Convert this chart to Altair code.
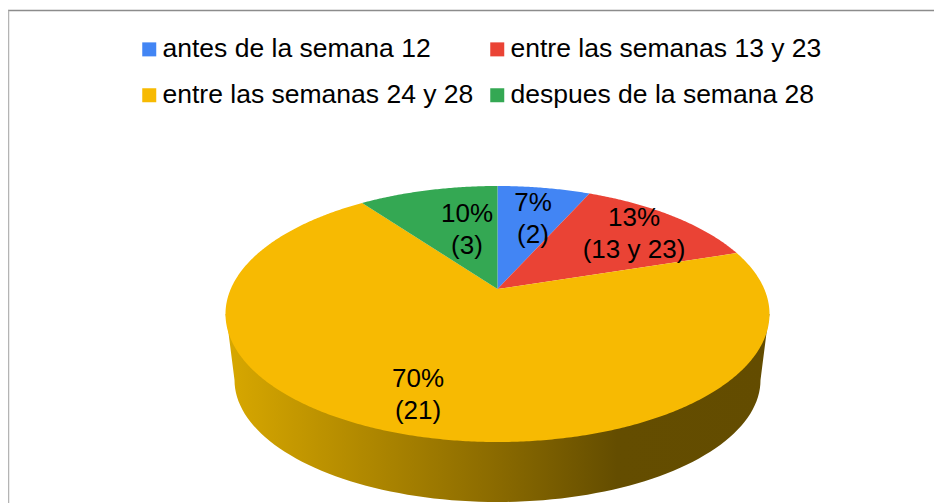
import math
import altair as alt

categories = ["antes de la semana 12", "entre las semanas 13 y 23",
              "entre las semanas 24 y 28", "despues de la semana 28"]
counts = [2, 4, 21, 3]
slice_labels = ["7%\n(2)", "13%\n(13 y 23)", "70%\n(21)", "10%\n(3)"]
label_x = [533, 634, 418, 467]
label_y = [203, 218, 379, 214]
colors = ["#4285F4", "#EA4335", "#F7BA02", "#34A853"]
legend_order = [categories[0], categories[2], categories[1], categories[3]]
legend_colors = [colors[0], colors[2], colors[1], colors[3]]

# Geometry of the tilted pie, in page pixels
CX, CY, RX, RY = 497.5, 314.0, 272.0, 128.0
APEX_Y = 289.0
BOTTOM_CY, BOTTOM_RX, BOTTOM_RY = 380.0, 263.0, 122.0
k = (CY - APEX_Y) / RY
s = math.sqrt(1 - k * k)


def rim(deg):
    """Perspective image of the point at `deg` clockwise from 12 o'clock."""
    a = math.radians(deg)
    u, v = math.sin(a), math.cos(a)
    d = 1 + k * v
    return [CX + RX * s * u / d, CY - RY * (v + k) / d]


def feature(coords, label):
    return {"type": "Feature", "properties": {"label": label},
            "geometry": {"type": "Polygon", "coordinates": [coords]}}


total = sum(counts)
wedges = []
start = 0.0
for name, c in zip(categories, counts):
    end = start + 360.0 * c / total
    n = max(2, int(end - start) * 2)
    arc = [rim(start + (end - start) * i / n) for i in range(n + 1)]
    apex = [CX, APEX_Y]
    wedges.append(feature([apex] + arc + [apex], name))
    start = end

# Side wall: hull of the top rim and the lower rim
wall = [[CX - RX, CY], [CX - RX + 3, CY + 19]]
for i in range(0, 181, 2):
    a = math.radians(180 - i)
    wall.append([CX + BOTTOM_RX * math.cos(a), BOTTOM_CY + BOTTOM_RY * math.sin(a)])
wall += [[CX + RX - 3, CY + 19], [CX + RX, CY], [CX - RX, CY]]

proj = dict(type="identity", scale=1, translate=[-8, -8])


def geo(features):
    return alt.InlineData(values={"type": "FeatureCollection", "features": features},
                          format=alt.DataFormat(property="features", type="json"))


gradient = alt.Gradient(
    gradient="linear", x1=0, x2=1, y1=0, y2=0,
    stops=[alt.GradientStop(color="#D8A800", offset=0),
           alt.GradientStop(color="#8A6A00", offset=0.5),
           alt.GradientStop(color="#644D00", offset=0.72),
           alt.GradientStop(color="#634C00", offset=1)])

wall_layer = alt.Chart(geo([feature(wall, "pared")])).mark_geoshape(
    fill=gradient, strokeWidth=0).project(**proj)

wedge_layer = alt.Chart(geo(wedges)).mark_geoshape(strokeWidth=0).encode(
    color=alt.Color("properties.label:N",
                    scale=alt.Scale(domain=legend_order, range=legend_colors),
                    sort=legend_order,
                    legend=alt.Legend(
                        title=None, orient="none", legendX=128, legendY=28,
                        columns=2, symbolType="square", symbolSize=196,
                        symbolStrokeWidth=0, labelFontSize=26.5,
                        labelFont="Liberation Sans", labelColor="#000000",
                        labelOffset=0, rowPadding=19, columnPadding=10,
                        labelLimit=400))
).project(**proj)

text_layer = alt.Chart(alt.Data(values=[
    {"t": t, "lon": x, "lat": y} for t, x, y in zip(slice_labels, label_x, label_y)
])).mark_text(font="Liberation Sans", fontSize=26, color="#000000",
              lineBreak="\n", lineHeight=32, align="center", baseline="middle").encode(
    longitude="lon:Q", latitude="lat:Q", text="t:N").project(**proj)


def line(coords, color, width):
    return alt.Chart(alt.InlineData(values={"type": "Feature", "properties": {},
                                            "geometry": {"type": "LineString", "coordinates": coords}},
                                    format=alt.DataFormat(type="json"))
                     ).mark_geoshape(filled=False, stroke=color, strokeWidth=width).project(**proj)


top_line = line([[8, 10.5], [942, 10.5]], "#8c8c8c", 1.5)
left_line = line([[8.5, 10.5], [8.5, 503]], "#b4b4b4", 1.5)

chart = alt.layer(top_line, left_line, wall_layer, wedge_layer, text_layer).properties(
    width=926, height=495, padding=0,
    autosize=alt.AutoSizeParams(type="none")
).configure_view(stroke=None).configure(background="#ffffff")

chart.save("out.html", embed_options={"renderer": "svg", "actions": False})
